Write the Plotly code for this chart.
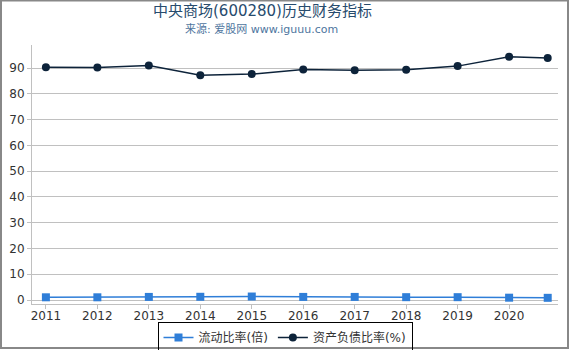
import plotly.graph_objects as go

years = [2011, 2012, 2013, 2014, 2015, 2016, 2017, 2018, 2019, 2020, 2020.75]
tick_vals = [2011, 2012, 2013, 2014, 2015, 2016, 2017, 2018, 2019, 2020]
tick_text = ["2011", "2012", "2013", "2014", "2015", "2016", "2017", "2018", "2019", "2020"]
current_ratio = [1.05, 1.05, 1.2, 1.25, 1.35, 1.2, 1.2, 1.1, 1.1, 0.9, 0.85]
debt_ratio = [90.4, 90.3, 91.0, 87.3, 87.7, 89.5, 89.2, 89.4, 90.8, 94.4, 94.0]

FONT = "DejaVu Sans, Noto Sans CJK SC, sans-serif"

fig = go.Figure()
fig.add_trace(go.Scatter(
    x=years, y=current_ratio, name="流动比率(倍)", mode="lines+markers",
    line=dict(color="#2f7ed8", width=1.5),
    marker=dict(symbol="square", size=8, color="#2f7ed8"),
))
fig.add_trace(go.Scatter(
    x=years, y=debt_ratio, name="资产负债比率(%)", mode="lines+markers",
    line=dict(color="#0d233a", width=1.5),
    marker=dict(symbol="circle", size=8, color="#0d233a"),
))

W, H = 570, 350
ml, mr, mt, mb = 32, 12, 45, 46
pw, ph = W - ml - mr, H - mt - mb


def px_x(x):
    return (x - ml) / pw


def px_y(y):
    return (H - mb - y) / ph


fig.update_layout(
    width=W, height=H,
    margin=dict(l=ml, r=mr, t=mt, b=mb, autoexpand=False),
    paper_bgcolor="white", plot_bgcolor="white",
    font=dict(family=FONT, size=12, color="#333333"),
    showlegend=True,
    legend=dict(
        orientation="h", x=px_x(285), xanchor="center", y=px_y(322), yanchor="top",
        bordercolor="black", borderwidth=1, bgcolor="rgba(255,255,255,0)",
        font=dict(size=12, color="#333333"),
        itemwidth=30, tracegroupgap=0,
    ),
    xaxis=dict(
        range=[2010.73, 2020.95], tickvals=tick_vals, ticktext=tick_text,
        showgrid=False, showline=True, linecolor="#c0c0c0", linewidth=1,
        ticks="outside", ticklen=4, tickcolor="#c0c0c0", ticklabelstandoff=-3,
        tickfont=dict(size=12, color="#333333"), zeroline=False,
    ),
    yaxis=dict(
        range=[-1.55, 99], tickvals=list(range(0, 100, 10)),
        showgrid=True, gridcolor="#c0c0c0", gridwidth=1,
        showline=True, linecolor="#c0c0c0", linewidth=1,
        ticks="outside", ticklen=4, tickcolor="#c0c0c0",
        tickfont=dict(size=12, color="#333333"), zeroline=False,
    ),
    annotations=[
        dict(text="中央商场(600280)历史财务指标", xref="paper", yref="paper",
             x=px_x(262), y=px_y(11), xanchor="center", yanchor="middle",
             showarrow=False, font=dict(size=15, color="#274b6d", family=FONT)),
        dict(text="来源: 爱股网 www.iguuu.com", xref="paper", yref="paper",
             x=px_x(261), y=px_y(29), xanchor="center", yanchor="middle",
             showarrow=False, font=dict(size=11, color="#4d759e", family=FONT)),
    ],
    shapes=[
        dict(type="rect", xref="paper", yref="paper",
             x0=px_x(1), x1=px_x(568), y0=px_y(348), y1=px_y(0.5),
             line=dict(color="#888888", width=2), fillcolor="rgba(0,0,0,0)", layer="below"),
    ],
)

fig.write_html("out.html")
